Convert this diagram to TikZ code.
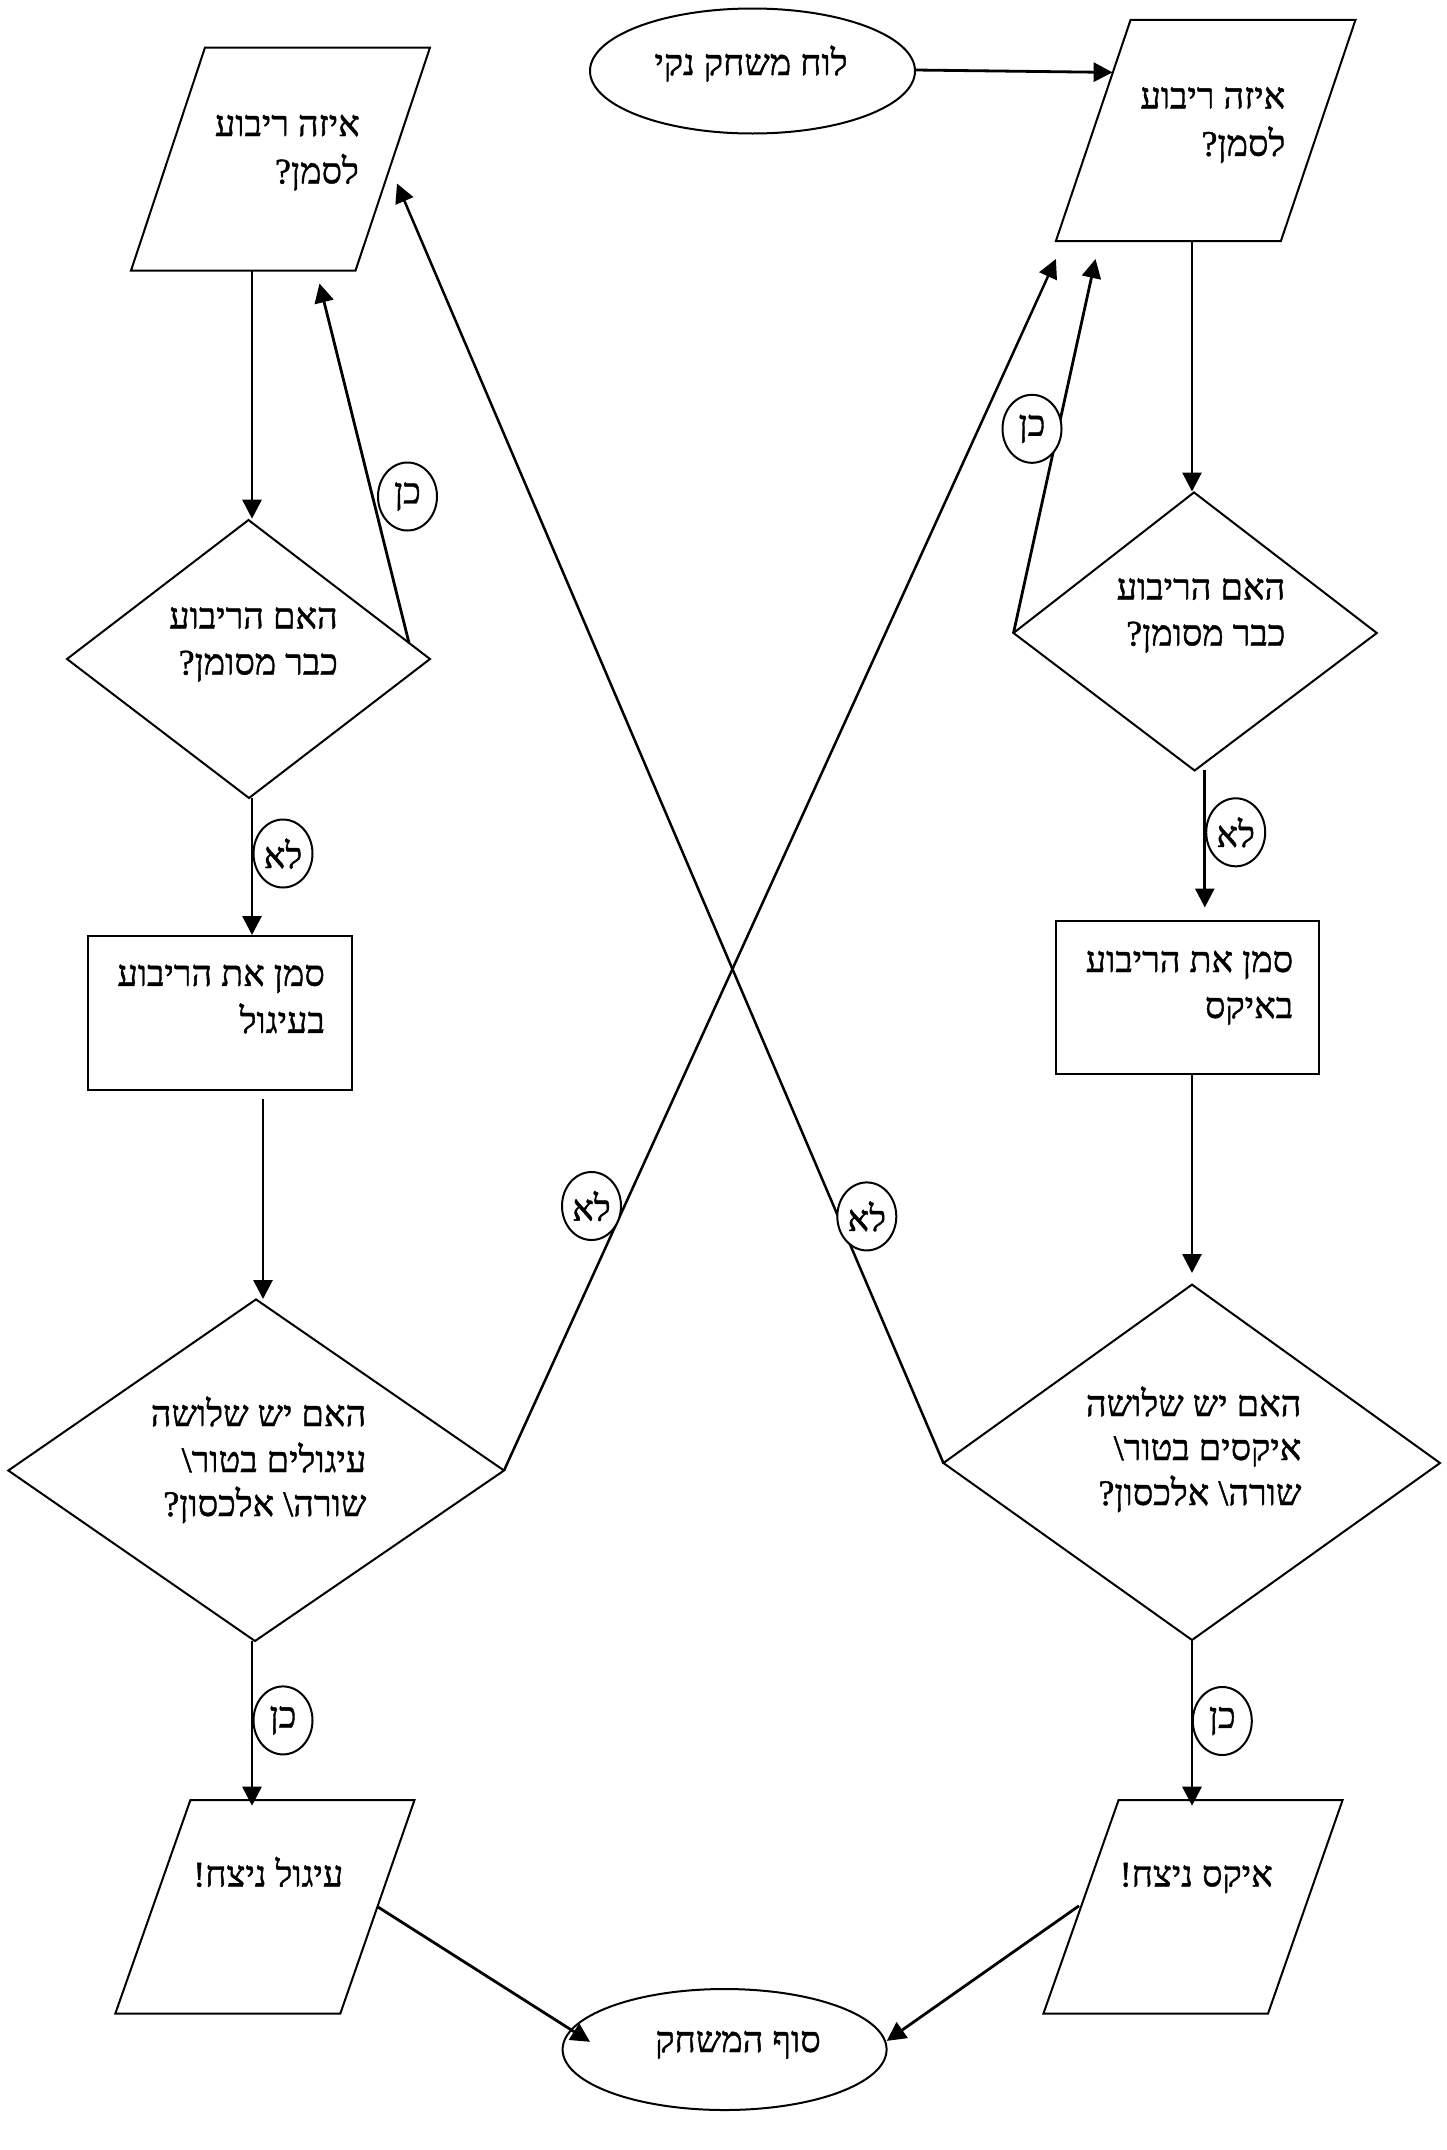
\documentclass[tikz,border=0pt]{standalone}
\usepackage{fontspec}
\newfontfamily\hebfont[Script=Hebrew,FakeBold=1.2]{Liberation Serif}
\TeXXeTstate=1
\usetikzlibrary{arrows.meta,shapes.geometric}
\newcommand{\hb}[1]{\hebfont\beginR #1\endR}
\tikzset{
  shp/.style={draw=black,line width=2pt,line join=miter},
  arr/.style={line width=2.8pt,-{Triangle[length=19pt,width=19pt]}},
  txt/.style={anchor=base east,inner sep=0pt,font=\fontsize{36}{44}\selectfont},
  ctxt/.style={anchor=base,inner sep=0pt,font=\fontsize{36}{44}\selectfont},
  lbl/.style={draw=black,fill=white,line width=2pt,ellipse,minimum width=59pt,minimum height=68pt,inner sep=0pt,font=\fontsize{36}{44}\selectfont},
}
\begin{document}
\begin{tikzpicture}[x=1pt,y=-1pt]
\useasboundingbox (0,0) rectangle (1446,2150);
\fill[white] (0,0) rectangle (1446,2150);

% shape corner coordinates
\coordinate (p1a) at (205,47.5);   \coordinate (p1b) at (430,47.5);
\coordinate (p1c) at (355.5,270.6); \coordinate (p1d) at (131,270.6);
\coordinate (p2a) at (1130.6,19.8); \coordinate (p2b) at (1355.5,19.8);
\coordinate (p2c) at (1280.9,241);  \coordinate (p2d) at (1055.9,241);
\coordinate (p3a) at (190.4,1800);  \coordinate (p3b) at (414.5,1800);
\coordinate (p3c) at (340.3,2013.6); \coordinate (p3d) at (115.3,2013.6);
\coordinate (p4a) at (1118.6,1800); \coordinate (p4b) at (1342.6,1800);
\coordinate (p4c) at (1268,2013.6); \coordinate (p4d) at (1043.4,2013.6);

\coordinate (d1t) at (248.5,520); \coordinate (d1r) at (430,659);
\coordinate (d1b) at (249,798);   \coordinate (d1l) at (67,659);
\coordinate (d2t) at (1194,492.4); \coordinate (d2r) at (1376.8,633);
\coordinate (d2b) at (1194.6,770.5); \coordinate (d2l) at (1013.5,633);
\coordinate (d3t) at (256,1299.4); \coordinate (d3r) at (504,1470.5);
\coordinate (d3b) at (255,1641);   \coordinate (d3l) at (8.3,1470.5);
\coordinate (d4t) at (1192,1284.6); \coordinate (d4r) at (1440,1463);
\coordinate (d4b) at (1192,1640);   \coordinate (d4l) at (943.4,1463);

% shapes
\draw[shp] (p1a) -- (p1b) -- (p1c) -- (p1d) -- cycle;
\draw[shp] (p2a) -- (p2b) -- (p2c) -- (p2d) -- cycle;
\draw[shp] (p3a) -- (p3b) -- (p3c) -- (p3d) -- cycle;
\draw[shp] (p4a) -- (p4b) -- (p4c) -- (p4d) -- cycle;
\draw[shp] (d1t) -- (d1r) -- (d1b) -- (d1l) -- cycle;
\draw[shp] (d2t) -- (d2r) -- (d2b) -- (d2l) -- cycle;
\draw[shp] (d3t) -- (d3r) -- (d3b) -- (d3l) -- cycle;
\draw[shp] (d4t) -- (d4r) -- (d4b) -- (d4l) -- cycle;
\draw[shp] (88,936) rectangle (351.8,1090);
\draw[shp] (1055.9,920.8) rectangle (1319,1074.4);
\draw[shp] (752.5,71) ellipse [x radius=162.5, y radius=62.5];
\draw[shp] (724.6,2049.5) ellipse [x radius=162, y radius=60.5];

% connector end points
\coordinate (s1) at (915,70);       \coordinate (e1) at (1112.6,72.4);
\coordinate (s2) at (252,271);      \coordinate (e2) at (252,518.7);
\coordinate (s3) at (409,643);      \coordinate (e3) at (319.5,283.5);
\coordinate (s4) at (252,798);      \coordinate (e4) at (252,935);
\coordinate (s5) at (263,1099);     \coordinate (e5) at (263,1299);
\coordinate (s6) at (252,1641);     \coordinate (e6) at (252,1805.7);
\coordinate (s7) at (378,1907);     \coordinate (e7) at (590,2041.8);
\coordinate (e8) at (1055.9,259);
\coordinate (s9) at (1192,241);     \coordinate (e9) at (1192,491.5);
\coordinate (e10) at (1095.5,259);
\coordinate (s11) at (1204.8,770);  \coordinate (e11) at (1204.8,907.5);
\coordinate (s12) at (1192,1074.4); \coordinate (e12) at (1192,1273);
\coordinate (s13) at (1192,1640);   \coordinate (e13) at (1192,1805.7);
\coordinate (s14) at (1079,1905.8); \coordinate (e14) at (886.7,2040.9);
\coordinate (e15) at (397,183.5);

\draw[arr] (s1) -- (e1);
\draw[arr] (s2) -- (e2);
\draw[arr] (s3) -- (e3);
\draw[arr] (s4) -- (e4);
\draw[arr] (s5) -- (e5);
\draw[arr] (s6) -- (e6);
\draw[arr] (s7) -- (e7);
\draw[arr,line width=2.5pt] (d3r) -- (e8);
\draw[arr] (s9) -- (e9);
\draw[arr] (d2l) -- (e10);
\draw[arr] (s11) -- (e11);
\draw[arr] (s12) -- (e12);
\draw[arr] (s13) -- (e13);
\draw[arr] (s14) -- (e14);
\draw[arr,line width=2.5pt] (d4l) -- (e15);

% labels
\node[lbl] (l1) at (407.5,496.5) {\hb{כן}};
\node[lbl] (l2) at (283,853.5) {\hb{לא}};
\node[lbl] (l3) at (591.5,1206) {\hb{לא}};
\node[lbl] (l4) at (283,1720.4) {\hb{כן}};
\node[lbl] (l5) at (1032,428.8) {\hb{כן}};
\node[lbl] (l6) at (1235.7,832.3) {\hb{לא}};
\node[lbl] (l7) at (866.8,1216.4) {\hb{לא}};
\node[lbl] (l8) at (1222.3,1721) {\hb{כן}};

% texts
\node[ctxt] (tstart) at (751,75) {\hb{לוח משחק נקי}};
\node[ctxt] (tend) at (738,2052) {\hb{סוף המשחק}};
\node[txt] (t1a) at (360,136) {\hb{איזה ריבוע}};
\node[txt] (t1b) at (359,183.4) {\hb{לסמן?}};
\node[txt] (t2a) at (1285.5,108.3) {\hb{איזה ריבוע}};
\node[txt] (t2b) at (1285.5,155.8) {\hb{לסמן?}};
\node[txt] (t3a) at (338,628.4) {\hb{האם הריבוע}};
\node[txt] (t3b) at (338,674.5) {\hb{כבר מסומן?}};
\node[txt] (t4a) at (1285.5,599.4) {\hb{האם הריבוע}};
\node[txt] (t4b) at (1285.5,645.5) {\hb{כבר מסומן?}};
\node[txt] (t5a) at (325,985.8) {\hb{סמן את הריבוע}};
\node[txt] (t5b) at (325,1032.9) {\hb{בעיגול}};
\node[txt] (t6a) at (1293.3,972) {\hb{סמן את הריבוע}};
\node[txt] (t6b) at (1293.3,1018) {\hb{באיקס}};
\node[txt] (t7a) at (366.5,1426) {\hb{האם יש שלושה}};
\node[txt] (t7b) at (366.5,1472) {\hb{עיגולים בטור\textbackslash}};
\node[txt] (t7c) at (366.5,1516) {\hb{שורה\textbackslash{} אלכסון?}};
\node[txt] (t8a) at (1301.6,1416) {\hb{האם יש שלושה}};
\node[txt] (t8b) at (1301.6,1460) {\hb{איקסים בטור\textbackslash}};
\node[txt] (t8c) at (1301.6,1505) {\hb{שורה\textbackslash{} אלכסון?}};
\node[txt] (t9) at (343.5,1886.4) {\hb{עיגול ניצח!}};
\node[txt] (t10) at (1273,1886.4) {\hb{איקס ניצח!}};
\end{tikzpicture}
\end{document}
